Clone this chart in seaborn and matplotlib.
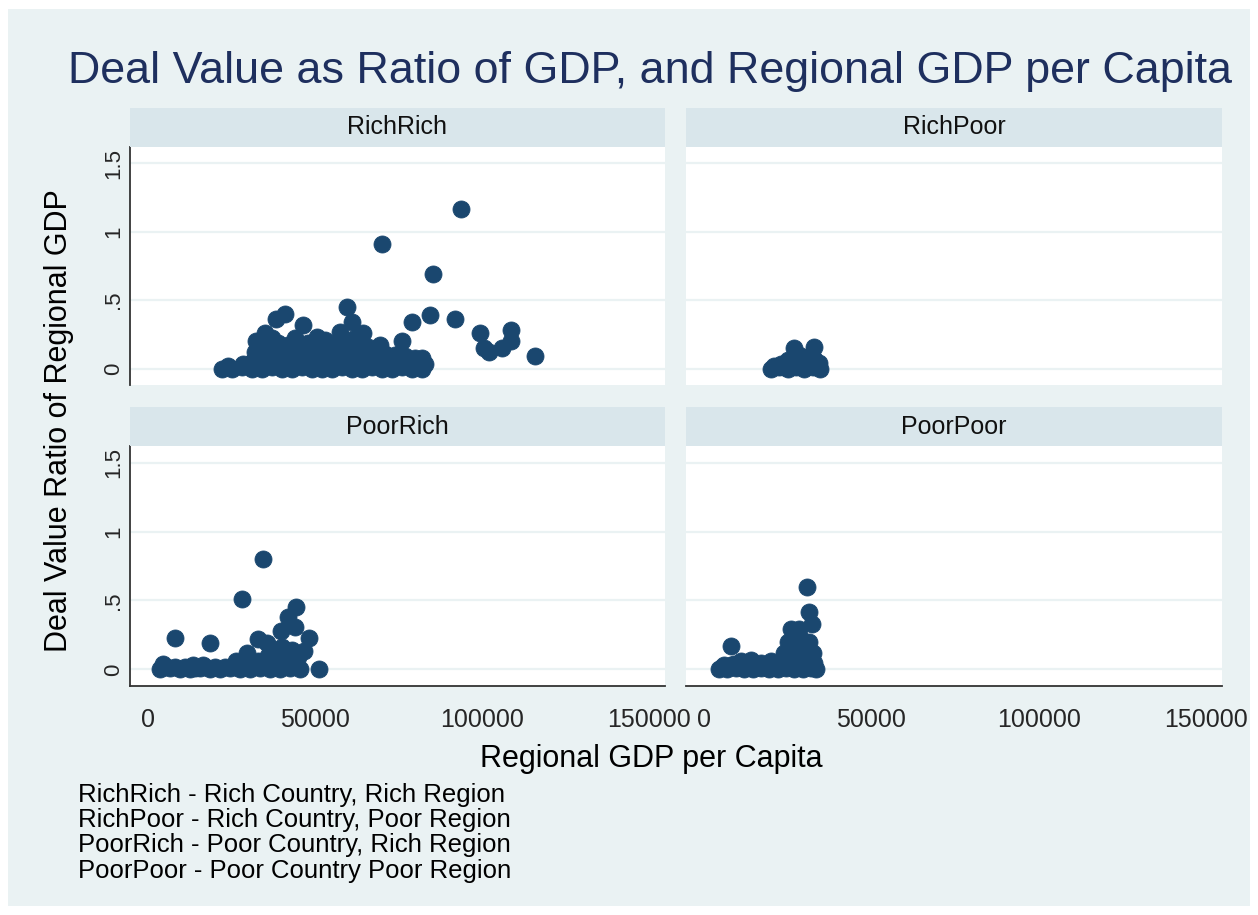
import matplotlib.pyplot as plt
import pandas as pd
import seaborn as sns
from matplotlib.patches import Rectangle

# values (regional GDP per capita, deal value / regional GDP)
rr_gdp = [
    93700, 70200, 85200, 59700, 84400, 91800, 79000, 99400, 108700, 108700,
    106000, 100600, 102100, 115900, 41000, 38300, 46400, 34900, 32200, 61100,
    57400, 76000, 82000, 64400, 69500, 50600,
    22000, 25000, 28000, 31000, 34000, 37000, 40000, 43000, 46000, 49000, 52000,
    55000, 58000, 61000, 64000, 67000, 70000, 73000, 76000, 79000, 82000,
    31000, 34000, 37000, 40000, 43000, 46000, 49000, 52000, 55000, 58000, 61000,
    64000, 67000, 70000, 73000, 76000, 79000, 82000,
    32000, 35000, 38000, 41000, 44000, 47000, 50000, 53000, 56000, 59000, 62000,
    65000, 68000, 71000, 74000, 77000, 80000,
    33000, 36000, 39000, 42000, 45000, 48000, 51000, 54000, 57000, 60000, 63000, 66000,
    24000, 28500, 37000, 44000, 53000, 62000, 83000, 71000, 75000,
]
rr_ratio = [
    1.17, 0.91, 0.69, 0.45, 0.39, 0.36, 0.34, 0.26, 0.28, 0.20,
    0.15, 0.15, 0.12, 0.095, 0.40, 0.365, 0.32, 0.26, 0.20, 0.34,
    0.265, 0.20, 0.08, 0.26, 0.175, 0.23,
    0.00, 0.00, 0.01, 0.00, 0.00, 0.01, 0.00, 0.00, 0.01, 0.00, 0.00,
    0.00, 0.01, 0.00, 0.00, 0.01, 0.00, 0.00, 0.01, 0.00, 0.00,
    0.05, 0.06, 0.07, 0.05, 0.06, 0.07, 0.05, 0.06, 0.07, 0.05, 0.06,
    0.07, 0.05, 0.06, 0.05, 0.06, 0.05, 0.04,
    0.12, 0.11, 0.13, 0.12, 0.11, 0.13, 0.12, 0.11, 0.13, 0.12, 0.11,
    0.13, 0.12, 0.11, 0.10, 0.09, 0.08,
    0.17, 0.18, 0.19, 0.17, 0.18, 0.19, 0.17, 0.18, 0.19, 0.17, 0.18, 0.16,
    0.02, 0.03, 0.22, 0.22, 0.21, 0.22, 0.03, 0.10, 0.09,
]

rp_gdp = [20000, 22500, 25000, 27500, 30000, 32500, 34700,
          23000, 26000, 29000, 32000, 34500,
          27000, 28500, 33000, 32000, 30000, 25000,
          21000, 24000, 28000, 31000, 33500, 27500, 33000]
rp_ratio = [0.00, 0.01, 0.00, 0.01, 0.00, 0.01, 0.00,
            0.03, 0.05, 0.06, 0.05, 0.04,
            0.15, 0.10, 0.16, 0.10, 0.08, 0.06,
            0.02, 0.01, 0.03, 0.02, 0.02, 0.07, 0.07]

pr_gdp = [34300, 28100, 44200, 41900, 44000, 39900, 48200, 32800, 8200, 18600,
          46700, 29600, 26300, 51300, 35500,
          3600, 6500, 9500, 12500, 15500, 18500, 21500, 24500, 27500, 30500,
          33500, 36500, 39500, 42500, 45500,
          4500, 13500, 16500, 23000, 30500, 33000, 35000, 38000, 41000, 44000,
          36000, 39000, 42000, 45000, 37000, 40000, 43000,
          5000, 8000, 11000, 14000, 17000, 20000, 26000, 29000]
pr_ratio = [0.80, 0.51, 0.455, 0.38, 0.305, 0.28, 0.23, 0.22, 0.23, 0.195,
            0.135, 0.12, 0.06, 0.00, 0.19,
            0.00, 0.01, 0.00, 0.00, 0.01, 0.00, 0.00, 0.01, 0.00, 0.00,
            0.01, 0.00, 0.00, 0.01, 0.00,
            0.04, 0.03, 0.03, 0.02, 0.04, 0.06, 0.05, 0.06, 0.05, 0.05,
            0.10, 0.11, 0.10, 0.09, 0.15, 0.16, 0.14,
            0.02, 0.02, 0.02, 0.01, 0.02, 0.02, 0.02, 0.03]

pp_gdp = [30800, 31300, 32200, 26000, 28500, 25000, 8100, 14100, 24000, 31000,
          4500, 7000, 9500, 12000, 14500, 17000, 19500, 22000, 24500, 27000,
          29500, 32000, 33500,
          6000, 9000, 12000, 15000, 18000, 21000, 24000, 27000, 30000, 33000,
          17000, 26500, 28000, 30000, 32500, 29000, 31500, 27000,
          5500, 8000, 10500, 13000, 16000, 19000, 22500, 25500, 28500, 31500,
          11000, 20000]
pp_ratio = [0.60, 0.415, 0.33, 0.29, 0.29, 0.20, 0.17, 0.07, 0.12, 0.16,
            0.00, 0.00, 0.01, 0.00, 0.00, 0.01, 0.00, 0.00, 0.01, 0.00,
            0.00, 0.01, 0.00,
            0.03, 0.04, 0.03, 0.04, 0.03, 0.04, 0.05, 0.06, 0.05, 0.05,
            0.05, 0.14, 0.18, 0.10, 0.12, 0.22, 0.20, 0.24,
            0.02, 0.03, 0.02, 0.03, 0.02, 0.03, 0.02, 0.03, 0.02, 0.03,
            0.06, 0.06]

groups = ['RichRich', 'RichPoor', 'PoorRich', 'PoorPoor']
x_ticks = [0, 50000, 100000, 150000]
y_ticks = [0, 0.5, 1, 1.5]
y_tick_labels = ['0', '.5', '1', '1.5']
notes = ['RichRich - Rich Country, Rich Region',
         'RichPoor - Rich Country, Poor Region',
         'PoorRich - Poor Country, Rich Region',
         'PoorPoor - Poor Country Poor Region']

df = pd.concat([
    pd.DataFrame({'gdp': rr_gdp, 'ratio': rr_ratio, 'group': 'RichRich'}),
    pd.DataFrame({'gdp': rp_gdp, 'ratio': rp_ratio, 'group': 'RichPoor'}),
    pd.DataFrame({'gdp': pr_gdp, 'ratio': pr_ratio, 'group': 'PoorRich'}),
    pd.DataFrame({'gdp': pp_gdp, 'ratio': pp_ratio, 'group': 'PoorPoor'}),
])

sns.set_style('white')
plt.rcParams['font.family'] = ['Liberation Sans', 'DejaVu Sans']

BG = '#EAF2F3'
STRIP = '#D9E6EB'
NAVY = '#1A476F'
W, H = 1258, 915


def px_box(left, top, right, bottom):
    return [left / W, 1 - bottom / H, (right - left) / W, (bottom - top) / H]


fig = plt.figure(figsize=(W / 100, H / 100), dpi=100, facecolor='white')
fig.add_artist(Rectangle((8 / W, 9 / H), 1242 / W, 897 / H, transform=fig.transFigure,
                         facecolor=BG, edgecolor='none', zorder=0))

# panel boxes in pixels: left, top, right, bottom
boxes = {'RichRich': (130, 147, 665, 385), 'RichPoor': (686, 147, 1222, 385),
         'PoorRich': (130, 446, 665, 686), 'PoorPoor': (686, 446, 1222, 686)}

for i, g in enumerate(groups):
    l, t, r, b = boxes[g]
    left_col = i % 2 == 0
    bottom_row = i >= 2
    ax = fig.add_axes(px_box(l, t, r, b))
    ax.set_facecolor('white')
    sns.scatterplot(data=df[df['group'] == g], x='gdp', y='ratio', ax=ax,
                    color=NAVY, edgecolor=NAVY, linewidth=0.6, s=150,
                    legend=False, zorder=3)
    ax.set_xlim(-5400, 154800)
    ax.set_ylim(-0.12, 1.62)
    ax.set_xlabel('')
    ax.set_ylabel('')
    ax.set_yticks(y_ticks)
    ax.set_yticklabels(y_tick_labels)
    ax.set_xticks(x_ticks)
    ax.set_xticklabels([str(v) for v in x_ticks])
    ax.yaxis.grid(True, color=BG, linewidth=1.6)
    ax.xaxis.grid(False)
    ax.set_axisbelow(True)
    for s in ['top', 'right']:
        ax.spines[s].set_visible(False)
    ax.spines['left'].set_visible(left_col)
    ax.spines['bottom'].set_visible(bottom_row)
    for s in ['left', 'bottom']:
        ax.spines[s].set_color('#333333')
        ax.spines[s].set_linewidth(1.3)
    if left_col:
        ax.tick_params(axis='y', length=7, width=1.3, color='#333333',
                       labelsize=16, pad=-3, labelrotation=90)
        for lab in ax.get_yticklabels():
            lab.set_va('center')
    else:
        ax.tick_params(axis='y', length=0, labelleft=False)
    if bottom_row:
        ax.tick_params(axis='x', length=7, width=1.3, color='#333333',
                       labelsize=18, pad=9)
    else:
        ax.tick_params(axis='x', length=0, labelbottom=False)

    # facet header strip
    fig.add_artist(Rectangle((l / W, 1 - t / H), (r - l) / W, 39 / H,
                             transform=fig.transFigure, facecolor=STRIP,
                             edgecolor='none', zorder=1))
    fig.text((l + r) / 2 / W, 1 - (t - 19.5) / H, g, ha='center', va='center',
             fontsize=18, color='#111111')

fig.text(650 / W, 1 - 83 / H, 'Deal Value as Ratio of GDP, and Regional GDP per Capita',
         ha='center', va='baseline', fontsize=32.3, color='#1E2F5E')
fig.text(59 / W, 1 - 421 / H, 'Deal Value Ratio of Regional GDP', rotation=90,
         ha='center', va='center', fontsize=22, color='black')
fig.text(651 / W, 1 - 767 / H, 'Regional GDP per Capita', ha='center', va='baseline',
         fontsize=22, color='black')
for i, line in enumerate(notes):
    fig.text(78 / W, 1 - (802 + 25.2 * i) / H, line, ha='left', va='baseline',
             fontsize=18.5, color='black')

fig.savefig('out.png', dpi=100, facecolor='white')
